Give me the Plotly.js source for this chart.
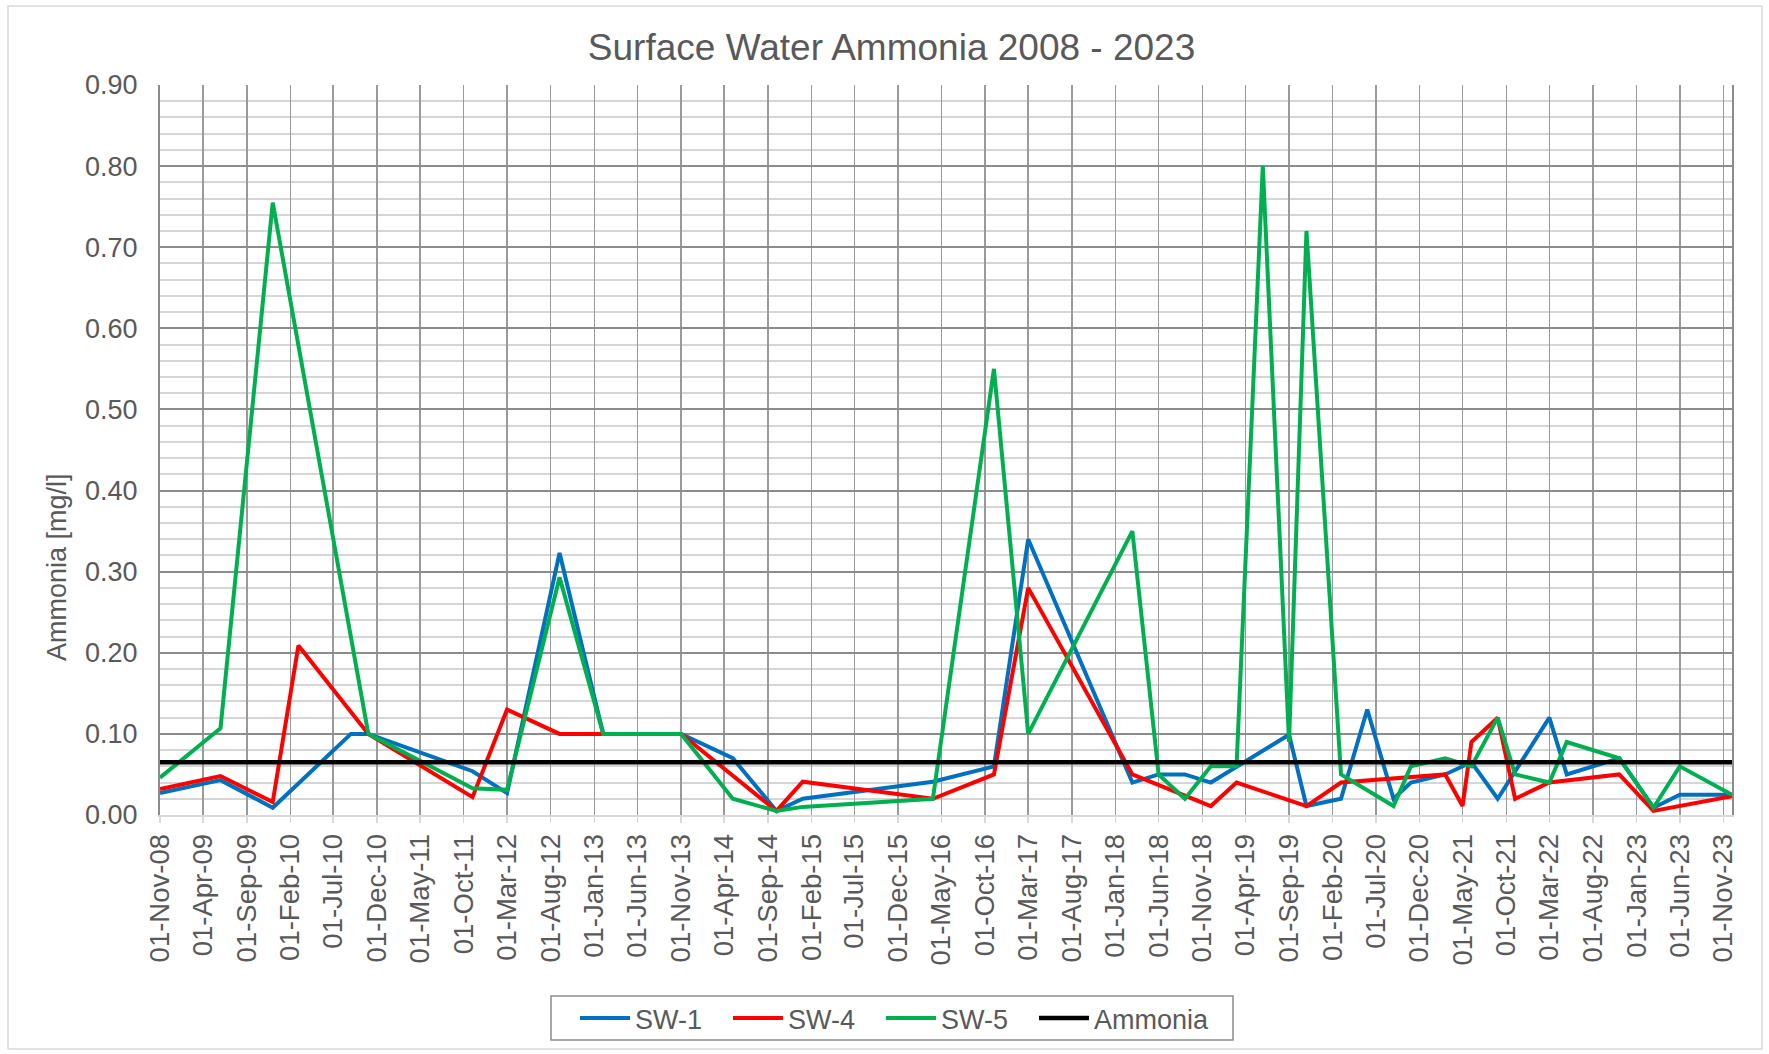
<!DOCTYPE html>
<html>
<head>
<meta charset="utf-8">
<script src="https://cdn.plot.ly/plotly-3.0.1.min.js"></script>
<style>html,body{margin:0;padding:0;background:#fff;}#chart{width:1769px;height:1054px;}</style>
</head>
<body>
<div id="chart"></div>
<script>
// ---- data ----
const sw1Dates = ['2008-11-01','2009-06-01','2009-12-01','2010-09-01','2010-11-01','2011-11-01','2012-03-01','2012-09-01','2013-02-01','2013-11-01','2014-05-01','2014-10-01','2015-01-01','2016-04-01','2016-11-01','2017-03-01','2018-03-01','2018-06-01','2018-09-01','2018-12-01','2019-09-01','2019-11-01','2020-03-01','2020-06-01','2020-09-01','2020-11-01','2021-03-01','2021-06-01','2021-09-01','2022-03-01','2022-05-01','2022-11-01','2023-03-01','2023-06-01','2023-12-01'];
const sw1Values = [0.027,0.043,0.009,0.10,0.10,0.054,0.027,0.323,0.10,0.10,0.07,0.005,0.02,0.041,0.06,0.34,0.04,0.05,0.05,0.04,0.099,0.011,0.02,0.13,0.02,0.04,0.05,0.065,0.02,0.12,0.05,0.07,0.009,0.025,0.025];

const sw4Dates = ['2008-11-01','2009-06-01','2009-12-01','2010-03-01','2010-11-01','2011-11-01','2012-03-01','2012-09-01','2013-02-01','2013-11-01','2014-10-01','2015-01-01','2016-04-01','2016-11-01','2017-03-01','2018-03-01','2018-12-01','2019-03-01','2019-11-01','2020-03-01','2021-03-01','2021-05-01','2021-06-01','2021-09-01','2021-11-01','2022-03-01','2022-11-01','2023-03-01','2023-12-01'];
const sw4Values = [0.032,0.048,0.016,0.209,0.10,0.022,0.13,0.10,0.10,0.10,0.005,0.041,0.02,0.05,0.28,0.05,0.011,0.04,0.011,0.04,0.05,0.011,0.09,0.12,0.02,0.04,0.05,0.005,0.023];

const sw5Dates = ['2008-11-01','2009-06-01','2009-12-01','2010-11-01','2011-11-01','2012-03-01','2012-09-01','2013-02-01','2013-11-01','2014-05-01','2014-10-01','2015-01-01','2016-04-01','2016-11-01','2017-03-01','2018-03-01','2018-06-01','2018-09-01','2018-12-01','2019-03-01','2019-06-01','2019-09-01','2019-11-01','2020-03-01','2020-09-01','2020-11-01','2021-03-01','2021-06-01','2021-09-01','2021-11-01','2022-03-01','2022-05-01','2022-11-01','2023-03-01','2023-06-01','2023-12-01'];
const sw5Values = [0.046,0.107,0.755,0.10,0.033,0.031,0.293,0.10,0.10,0.02,0.005,0.01,0.02,0.55,0.10,0.35,0.05,0.02,0.06,0.06,0.80,0.09,0.72,0.05,0.011,0.06,0.07,0.06,0.12,0.05,0.04,0.09,0.07,0.009,0.06,0.025];

const limitDates = ['2008-11-01','2023-12-01'];
const limitValues = [0.065,0.065];

const seriesNames = ['SW-1','SW-4','SW-5','Ammonia'];
const chartTitle = 'Surface Water Ammonia 2008 - 2023';
const yTitle = 'Ammonia [mg/l]';

// ---- chart ----
const FONT = 'Liberation Sans, Arial, sans-serif';
const TXT = '#595959';
const traces = [
  {x: sw1Dates, y: sw1Values, name: seriesNames[0], mode: 'lines', line: {color: '#0070C0', width: 4}},
  {x: sw4Dates, y: sw4Values, name: seriesNames[1], mode: 'lines', line: {color: '#FF0000', width: 4}},
  {x: sw5Dates, y: sw5Values, name: seriesNames[2], mode: 'lines', line: {color: '#00B050', width: 4}},
  {x: limitDates, y: limitValues, name: seriesNames[3], mode: 'lines', line: {color: '#000000', width: 4.5}}
];

const L = 160, R = 37, T = 85, B = 239;
const W = 1769, H = 1054;
const pw = W - L - R, ph = H - T - B;
const px = v => (v - L) / pw;
const py = v => (H - B - v) / ph;

const layout = {
  width: W, height: H,
  margin: {l: L, r: R, t: T, b: B, pad: 0},
  paper_bgcolor: '#ffffff', plot_bgcolor: '#ffffff',
  font: {family: FONT, color: TXT, size: 27},
  title: {text: chartTitle, font: {family: FONT, size: 37, color: TXT}, x: 0.504, xref: 'container', xanchor: 'center', y: 1 - 47/H, yref: 'container', yanchor: 'middle'},
  showlegend: true,
  legend: {orientation: 'h', xref: 'container', yref: 'container', x: 575/W, xanchor: 'left', y: (H - 994)/H, yanchor: 'top',
           borderwidth: 0, bgcolor: 'rgba(0,0,0,0)', itemwidth: 50,
           font: {family: FONT, size: 27, color: TXT}, entrywidth: 88, entrywidthmode: 'pixels', traceorder: 'normal'},
  xaxis: {
    type: 'date', range: ['2008-11-01','2023-12-01'],
    tick0: '2008-11-01', dtick: 'M5', tickformat: '%d-%b-%y', tickangle: -90,
    showgrid: true, gridcolor: '#9a9a9a', gridwidth: 1.5,
    ticks: 'outside', ticklen: 6, tickcolor: '#d9d9d9', tickwidth: 1.5,
    showline: true, linecolor: '#d9d9d9', linewidth: 2,
    tickfont: {family: FONT, size: 27.5, color: TXT}, zeroline: false
  },
  yaxis: {
    range: [0, 0.9], dtick: 0.1, tick0: 0, tickformat: '.2f',
    showgrid: true, gridcolor: '#8c8c8c', gridwidth: 2,
    minor: {dtick: 0.02, tick0: 0, showgrid: true, gridcolor: '#d6d6d6', gridwidth: 2},
    ticks: 'outside', ticklen: 15, tickcolor: 'rgba(0,0,0,0)',
    showline: true, mirror: true, linecolor: '#8c8c8c', linewidth: 2,
    zeroline: false,
    tickfont: {family: FONT, size: 27, color: TXT}
  },
  annotations: [
    {text: yTitle, xref: 'paper', yref: 'paper', x: px(57), y: py(567), xanchor: 'center', yanchor: 'middle',
     textangle: -90, showarrow: false, font: {family: FONT, size: 27, color: TXT}}
  ],
  shapes: [
    {type: 'rect', xref: 'paper', yref: 'paper', x0: px(8), x1: px(1762), y0: py(1049), y1: py(6),
     line: {color: '#d9d9d9', width: 1.5}, fillcolor: 'rgba(0,0,0,0)', layer: 'below'},
    {type: 'rect', xref: 'paper', yref: 'paper', x0: px(551), x1: px(1233), y0: py(1040), y1: py(996),
     line: {color: '#8c8c8c', width: 1.5}, fillcolor: 'rgba(0,0,0,0)', layer: 'above'}
  ]
};

Plotly.newPlot('chart', traces, layout, {staticPlot: true, displayModeBar: false}).then(function (gd) {
  // let the last legend label overflow the fixed entry width instead of being clipped
  gd.querySelectorAll('.legend [clip-path]').forEach(function (el) { el.removeAttribute('clip-path'); });
});
</script>
</body>
</html>
